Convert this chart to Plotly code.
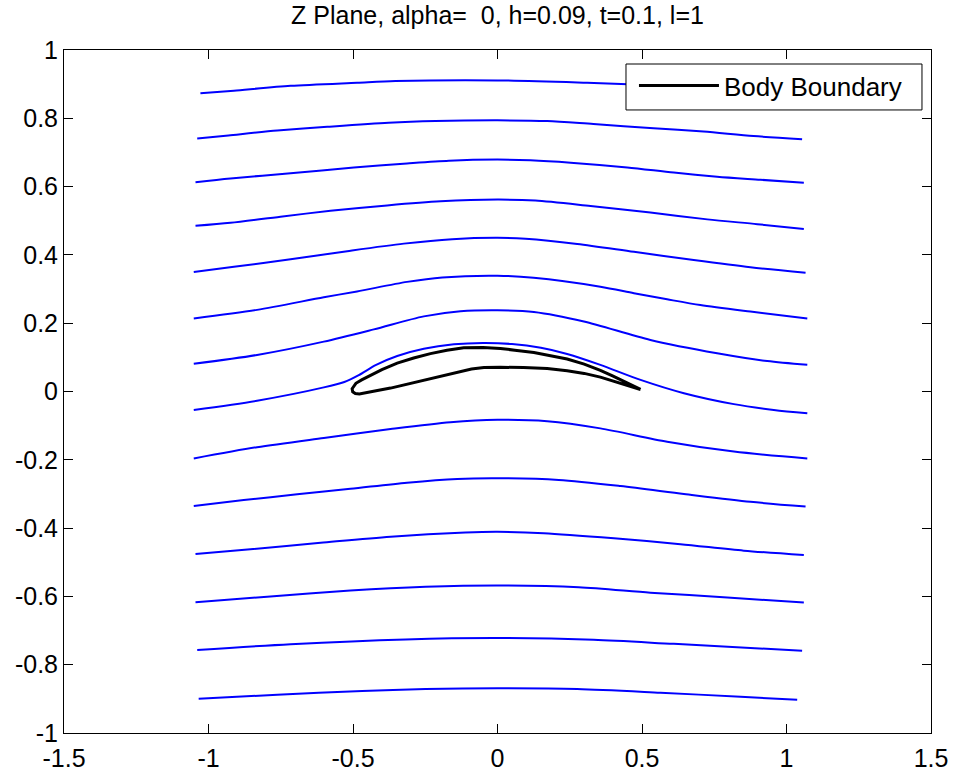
import plotly.graph_objects as go

# ---- data ----
TITLE = "Z Plane, alpha=  0, h=0.09, t=0.1, l=1"
LEGEND_NAME = "Body Boundary"

x_ticks = [-1.5, -1, -0.5, 0, 0.5, 1, 1.5]
x_tick_labels = ["-1.5", "-1", "-0.5", "0", "0.5", "1", "1.5"]
y_ticks = [-1, -0.8, -0.6, -0.4, -0.2, 0, 0.2, 0.4, 0.6, 0.8, 1]
y_tick_labels = ["-1", "-0.8", "-0.6", "-0.4", "-0.2", "0", "0.2", "0.4", "0.6", "0.8", "1"]

# streamlines (top to bottom)
s1_x = [-1.028, -0.912, -0.716, -0.486, -0.353, 0.0, 0.31, 0.60, 0.85, 1.05]
s1_y = [0.873, 0.881, 0.895, 0.904, 0.909, 0.911, 0.904, 0.895, 0.883, 0.872]
s2_x = [-1.039, -0.931, -0.762, -0.589, -0.377, -0.215, 0.0, 0.172, 0.332, 0.540, 0.713, 0.886, 1.054]
s2_y = [0.741, 0.750, 0.764, 0.775, 0.787, 0.792, 0.794, 0.792, 0.783, 0.771, 0.761, 0.748, 0.739]
s3_x = [-1.045, -0.924, -0.716, -0.497, -0.313, -0.168, 0.0, 0.114, 0.253, 0.449, 0.610, 0.760, 0.910, 1.060]
s3_y = [0.613, 0.624, 0.639, 0.656, 0.668, 0.676, 0.679, 0.677, 0.670, 0.656, 0.641, 0.629, 0.620, 0.611]
s4_x = [-1.045, -0.924, -0.751, -0.578, -0.382, -0.197, 0.0, 0.131, 0.322, 0.529, 0.726, 0.899, 1.060]
s4_y = [0.485, 0.494, 0.512, 0.529, 0.545, 0.557, 0.562, 0.559, 0.543, 0.524, 0.504, 0.490, 0.476]
s5_x = [-1.051, -0.912, -0.716, -0.520, -0.324, -0.157, 0.0, 0.097, 0.276, 0.472, 0.679, 0.875, 1.066]
s5_y = [0.350, 0.365, 0.387, 0.411, 0.433, 0.446, 0.450, 0.447, 0.432, 0.409, 0.385, 0.364, 0.348]
s6_x = [-1.051, -0.832, -0.601, -0.486, -0.313, -0.191, 0.0, 0.125, 0.356, 0.472, 0.587, 0.702, 0.875, 1.072]
s6_y = [0.214, 0.239, 0.276, 0.293, 0.321, 0.334, 0.339, 0.333, 0.307, 0.288, 0.270, 0.253, 0.234, 0.214]
s7_x = [-1.051, -0.832, -0.601, -0.428, -0.255, -0.128, 0.0, 0.126, 0.299, 0.529, 0.760, 0.933, 1.072]
s7_y = [0.081, 0.107, 0.146, 0.182, 0.220, 0.235, 0.238, 0.233, 0.205, 0.151, 0.112, 0.089, 0.078]
s8_x = [-1.051, -0.832, -0.601, -0.530, -0.480, -0.420, -0.347, -0.255, -0.151, -0.05, 0.050, 0.150, 0.241, 0.356, 0.495, 0.645, 0.818, 0.956, 1.072]
s8_y = [-0.054, -0.027, 0.012, 0.028, 0.048, 0.078, 0.104, 0.125, 0.138, 0.142, 0.139, 0.128, 0.110, 0.078, 0.034, -0.005, -0.037, -0.054, -0.064]
s9_x = [-1.051, -0.832, -0.601, -0.370, -0.163, 0.0, 0.172, 0.356, 0.587, 0.818, 1.072]
s9_y = [-0.196, -0.163, -0.136, -0.110, -0.090, -0.083, -0.087, -0.108, -0.147, -0.176, -0.196]
s10_x = [-1.051, -0.878, -0.693, -0.509, -0.313, -0.139, 0.0, 0.212, 0.426, 0.645, 0.875, 1.066]
s10_y = [-0.335, -0.318, -0.301, -0.285, -0.267, -0.256, -0.254, -0.259, -0.277, -0.300, -0.323, -0.337]
s11_x = [-1.045, -0.855, -0.612, -0.370, -0.111, 0.0, 0.160, 0.403, 0.633, 0.852, 1.060]
s11_y = [-0.476, -0.462, -0.443, -0.425, -0.413, -0.411, -0.415, -0.430, -0.447, -0.466, -0.479]
s12_x = [-1.045, -0.797, -0.509, -0.249, 0.0, 0.281, 0.529, 0.795, 1.060]
s12_y = [-0.617, -0.601, -0.583, -0.572, -0.568, -0.573, -0.589, -0.603, -0.618]
s13_x = [-1.039, -0.716, -0.318, 0.0, 0.333, 0.610, 1.054]
s13_y = [-0.757, -0.740, -0.726, -0.722, -0.727, -0.739, -0.759]
s14_x = [-1.034, -0.762, -0.468, -0.249, 0.0, 0.276, 0.564, 0.841, 1.037]
s14_y = [-0.900, -0.888, -0.877, -0.871, -0.869, -0.871, -0.882, -0.894, -0.903]

stream_x = [s1_x, s2_x, s3_x, s4_x, s5_x, s6_x, s7_x, s8_x, s9_x, s10_x, s11_x, s12_x, s13_x, s14_x]
stream_y = [s1_y, s2_y, s3_y, s4_y, s5_y, s6_y, s7_y, s8_y, s9_y, s10_y, s11_y, s12_y, s13_y, s14_y]

# body boundary (closed: trailing edge -> upper -> leading edge -> lower -> trailing edge)
body_x = [0.495, 0.449, 0.400, 0.356, 0.300, 0.241, 0.180, 0.126, 0.060, 0.010, -0.050, -0.117, -0.175, -0.232,
          -0.290, -0.347, -0.400, -0.439, -0.470, -0.490, -0.503, -0.501, -0.492, -0.478, -0.463, -0.420, -0.370,
          -0.310, -0.255, -0.200, -0.139, -0.090, -0.047, 0.010, 0.090, 0.172, 0.241, 0.300, 0.356, 0.420, 0.495]
body_y = [0.006, 0.026, 0.045, 0.062, 0.080, 0.095, 0.106, 0.114, 0.121, 0.126, 0.129, 0.128, 0.121, 0.111,
          0.098, 0.083, 0.064, 0.048, 0.034, 0.024, 0.008, -0.001, -0.006, -0.007, -0.005, 0.002, 0.010,
          0.022, 0.034, 0.046, 0.058, 0.066, 0.070, 0.071, 0.070, 0.067, 0.061, 0.053, 0.042, 0.026, 0.006]

FONT = "Liberation Sans, Arial, sans-serif"

fig = go.Figure()
for sx, sy in zip(stream_x, stream_y):
    fig.add_trace(go.Scatter(x=sx, y=sy, mode="lines", showlegend=False,
                             line=dict(color="#0000ff", width=2, shape="spline", smoothing=0.8),
                             hoverinfo="skip"))
fig.add_trace(go.Scatter(x=body_x, y=body_y, mode="lines", name=LEGEND_NAME,
                         line=dict(color="black", width=3)))

axis_common = dict(showline=True, linecolor="black", linewidth=1, mirror="ticks",
                   ticks="inside", ticklen=9, tickcolor="black", tickwidth=1,
                   showgrid=False, zeroline=False, automargin=False,
                   tickfont=dict(family=FONT, size=25, color="black"))

fig.update_layout(
    width=955, height=776,
    margin=dict(l=64, r=24, t=50, b=43),
    paper_bgcolor="white", plot_bgcolor="white",
    title=dict(text=TITLE, x=0.5, xref="paper", xanchor="center", y=1 - 15 / 776, yanchor="middle",
               font=dict(family=FONT, size=25, color="black")),
    xaxis=dict(range=[-1.5, 1.5], tickvals=x_ticks, ticktext=x_tick_labels, ticklabelstandoff=3, **axis_common),
    yaxis=dict(range=[-1, 1], tickvals=y_ticks, ticktext=y_tick_labels, ticklabelstandoff=0, **axis_common),
    legend=dict(x=0.6574, y=0.9824, xanchor="left", yanchor="top", bgcolor="rgba(0,0,0,0)",
                borderwidth=0, itemwidth=80,
                font=dict(family=FONT, size=26, color="black")),
    showlegend=True,
    shapes=[dict(type="rect", xref="paper", yref="paper", x0=0.6482, x1=0.9896, y0=0.9122, y1=0.9795,
                 line=dict(color="black", width=1), fillcolor="white", layer="above")],
)

fig.write_html("out.html", config={"displayModeBar": False},
               post_script="document.body.style.margin='0';")
